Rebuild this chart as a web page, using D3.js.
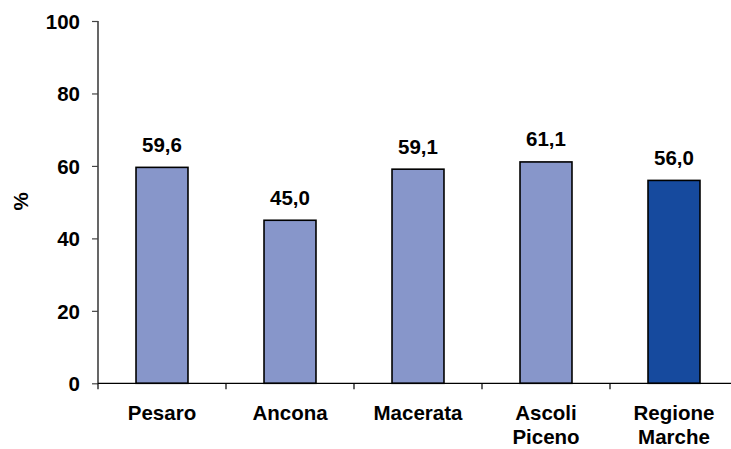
<!DOCTYPE html>
<html>
<head>
<meta charset="utf-8">
<script src="https://cdn.jsdelivr.net/npm/d3@7/dist/d3.min.js"></script>
<style>
  html, body { margin: 0; padding: 0; background: #fff; }
  svg { display: block; }
  text { font-family: "Liberation Sans", Arial, sans-serif; font-weight: bold; fill: #000; }
</style>
</head>
<body>
<svg id="chart" width="731" height="449"></svg>
<script>
// Province names (multi-line labels split by "\n") and their percentages
const categories = ["Pesaro", "Ancona", "Macerata", "Ascoli\nPiceno", "Regione\nMarche"];
const values = [59.6, 45.0, 59.1, 61.1, 56.0];
const highlight = [false, false, false, false, true];
const yTicks = [0, 20, 40, 60, 80, 100];
const yLabel = "%";

const svg = d3.select("#chart");
const plotLeft = 98, plotRight = 738, plotTop = 21, plotBottom = 383.3;

const x = d3.scaleBand()
  .domain(categories)
  .range([plotLeft, plotRight])
  .paddingInner(0)
  .paddingOuter(0);

const y = d3.scaleLinear().domain([0, 100]).range([plotBottom, plotTop]);

const barW = x.bandwidth() * 0.406;
const fmt = v => v.toFixed(1).replace(".", ",");

// Bars
svg.append("g").selectAll("rect")
  .data(values)
  .join("rect")
  .attr("x", (d, i) => x(categories[i]) + (x.bandwidth() - barW) / 2)
  .attr("y", d => y(d))
  .attr("width", barW)
  .attr("height", d => y(0) - y(d))
  .attr("fill", (d, i) => highlight[i] ? "#164A9E" : "#8796CA")
  .attr("stroke", "#000")
  .attr("stroke-width", 1.6);

// Value labels above bars
svg.append("g").selectAll("text")
  .data(values)
  .join("text")
  .attr("x", (d, i) => x(categories[i]) + x.bandwidth() / 2)
  .attr("y", d => y(d) - 15.5)
  .attr("text-anchor", "middle")
  .attr("font-size", 20.5)
  .text(d => fmt(d));

// Y axis
const yAxis = d3.axisLeft(y).tickValues(yTicks).tickSize(6).tickPadding(12);
const gy = svg.append("g").attr("transform", `translate(${plotLeft},0)`).call(yAxis);
gy.select(".domain").attr("stroke", "#000").attr("stroke-width", 1.2).attr("d", `M0,${plotTop}V${plotBottom}`);
gy.selectAll(".tick line").attr("stroke", "#444").attr("stroke-width", 1.2);
gy.selectAll(".tick text")
  .attr("font-size", 20.5)
  .attr("font-family", "Liberation Sans, Arial, sans-serif")
  .attr("font-weight", "bold")
  .attr("fill", "#000")
  .attr("dy", "0.36em");

// X axis: line with ticks at category boundaries
const gx = svg.append("g");
gx.append("line")
  .attr("x1", plotLeft).attr("x2", plotRight)
  .attr("y1", plotBottom).attr("y2", plotBottom)
  .attr("stroke", "#000").attr("stroke-width", 1.2);
const bounds = categories.map(c => x(c)).concat([plotRight]);
gx.selectAll("line.tk")
  .data(bounds)
  .join("line")
  .attr("class", "tk")
  .attr("x1", d => d).attr("x2", d => d)
  .attr("y1", plotBottom).attr("y2", plotBottom + 6)
  .attr("stroke", "#000").attr("stroke-width", 1.2);

// Category labels
const cat = svg.append("g").selectAll("text")
  .data(categories)
  .join("text")
  .attr("x", d => x(d) + x.bandwidth() / 2)
  .attr("y", 419.5)
  .attr("text-anchor", "middle")
  .attr("font-size", 20.5);
cat.each(function(d) {
  const t = d3.select(this);
  d.split("\n").forEach((line, i) => {
    t.append("tspan")
      .attr("x", t.attr("x"))
      .attr("dy", i === 0 ? 0 : 24.5)
      .text(line);
  });
});

// Y axis title
svg.append("text")
  .attr("transform", `translate(27.5,201.5) rotate(-90)`)
  .attr("text-anchor", "middle")
  .attr("font-size", 20.5)
  .text(yLabel);
</script>
</body>
</html>
